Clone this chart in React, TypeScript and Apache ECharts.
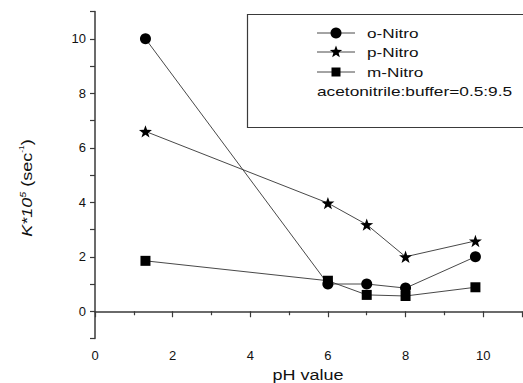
import React, { useEffect, useRef } from "react";
import * as echarts from "echarts";

const phValues = [1.3, 6, 7, 8, 9.8];
const oNitro = [10, 1.0, 1.0, 0.85, 2.0];
const pNitro = [6.6, 3.97, 3.18, 2.0, 2.58];
const mNitro = [1.85, 1.12, 0.6, 0.56, 0.88];
const seriesNames = ["o-Nitro", "p-Nitro", "m-Nitro"];
const noteText = "acetonitrile:buffer=0.5:9.5";
const xAxisName = "pH value";

const STAR =
  "path://M0,-10 L2.35,-3.24 L9.51,-3.09 L3.8,1.24 L5.88,8.09 L0,4 L-5.88,8.09 L-3.8,1.24 L-9.51,-3.09 L-2.35,-3.24 Z";

function starPoints(cx: number, cy: number, r: number) {
  const pts: number[][] = [];
  for (let i = 0; i < 10; i++) {
    const rr = i % 2 === 0 ? r : r * 0.42;
    const a = -Math.PI / 2 + (i * Math.PI) / 5;
    pts.push([cx + rr * Math.cos(a), cy + rr * Math.sin(a)]);
  }
  return pts;
}

export default function App() {
  const ref = useRef<HTMLDivElement>(null);
  useEffect(() => {
    if (!ref.current) return;
    const chart = echarts.init(ref.current, null, { renderer: "svg" });
    const font = "Liberation Sans, Arial, sans-serif";
    const axisColor = "#3a3a3a";
    const mk = (vals: number[]) => phValues.map((x, i) => [x, vals[i]]);
    const symbols = ["circle", STAR, "rect"];
    const sizes = [11, 13, 10];
    const datas = [oNitro, pNitro, mNitro];

    const legendX = 317;
    const legendRows = [33, 52, 72];
    const legendEls: any[] = [
      {
        type: "rect",
        shape: { x: 247.5, y: 14.5, width: 300, height: 113 },
        style: { fill: "#fff", stroke: axisColor, lineWidth: 1.2 },
        z: 10,
      },
    ];
    seriesNames.forEach((name, i) => {
      const y = legendRows[i];
      legendEls.push({
        type: "line",
        shape: { x1: legendX, y1: y, x2: legendX + 38, y2: y },
        style: { stroke: "#333", lineWidth: 0.9 },
        z: 11,
      });
      const cx = legendX + 19;
      if (i === 0)
        legendEls.push({ type: "circle", shape: { cx, cy: y, r: 5.5 }, style: { fill: "#000" }, z: 12 });
      else if (i === 1)
        legendEls.push({ type: "polygon", shape: { points: starPoints(cx, y, 6.5) }, style: { fill: "#000" }, z: 12 });
      else
        legendEls.push({ type: "rect", shape: { x: cx - 4.5, y: y - 4.5, width: 9, height: 9 }, style: { fill: "#000" }, z: 12 });
      legendEls.push({
        type: "text",
        x: 367,
        y,
        scaleX: 1.32,
        style: { text: name, fontFamily: font, fontSize: 13, fill: "#111", verticalAlign: "middle", align: "left" },
        z: 12,
      });
    });
    legendEls.push({
      type: "text",
      x: 317,
      y: 91,
      scaleX: 1.33,
      style: { text: noteText, fontFamily: font, fontSize: 13, fill: "#111", verticalAlign: "middle", align: "left" },
      z: 12,
    });

    chart.setOption({
      animation: false,
      backgroundColor: "#fff",
      grid: { left: 95, right: 1, top: 11.5, bottom: 44.5, containLabel: false },
      xAxis: {
        type: "value",
        min: 0,
        max: 11,
        interval: 2,
        axisLine: { show: true, lineStyle: { color: axisColor, width: 1.5 } },
        axisTick: { show: true, inside: false, length: 6, lineStyle: { color: axisColor, width: 1.2 } },
        minorTick: { show: true, splitNumber: 2, length: 4, lineStyle: { color: axisColor, width: 1.2 } },
        splitLine: { show: false },
        axisLabel: {
          color: "#111",
          fontFamily: font,
          fontSize: 13,
          margin: 10,
          showMaxLabel: false,
          formatter: (v: number) => (v % 2 === 0 && v <= 10 ? String(v) : ""),
        },
      },
      yAxis: {
        type: "value",
        min: -1,
        max: 11,
        interval: 1,
        axisLine: { show: true, lineStyle: { color: axisColor, width: 1.5 } },
        axisTick: { show: true, inside: false, length: 5, lineStyle: { color: axisColor, width: 1.2 } },
        splitLine: { show: false },
        axisLabel: {
          color: "#111",
          fontFamily: font,
          fontSize: 13,
          margin: 9,
          formatter: (v: number) => (v % 2 === 0 && v >= 0 && v <= 10 ? String(v) : ""),
        },
      },
      series: seriesNames.map((name, i) => ({
        name,
        type: "line",
        data: mk(datas[i]),
        symbol: symbols[i],
        symbolSize: sizes[i],
        symbolKeepAspect: true,
        showAllSymbol: true,
        lineStyle: { color: "#333", width: 0.9 },
        itemStyle: { color: "#000" },
        z: 3 + i,
      })),
      graphic: [
        {
          type: "text",
          x: 27,
          y: 188,
          rotation: Math.PI / 2,
          scaleX: 1.2,
          style: {
            text: "{i|K*10}{s|5}{n| (sec}{t|-1}{n|)}",
            align: "center",
            verticalAlign: "middle",
            rich: {
              i: { fontFamily: font, fontSize: 15, fontStyle: "italic", fill: "#111" },
              n: { fontFamily: font, fontSize: 15, fill: "#111" },
              s: { fontFamily: font, fontSize: 9, fontStyle: "italic", fill: "#111", verticalAlign: "top", lineHeight: 17 },
              t: { fontFamily: font, fontSize: 7, fill: "#111", verticalAlign: "top", lineHeight: 17 },
            },
          },
        },
        {
          type: "text",
          x: 308,
          y: 375,
          scaleX: 1.2,
          style: {
            text: xAxisName,
            fontFamily: font,
            fontSize: 15,
            fill: "#111",
            align: "center",
            verticalAlign: "middle",
          },
        },
        ...legendEls,
      ],
    });
    return () => chart.dispose();
  }, []);
  return (
    <div
      ref={ref}
      style={{ position: "fixed", left: 0, top: 0, width: 523, height: 383, background: "#fff" }}
    />
  );
}
